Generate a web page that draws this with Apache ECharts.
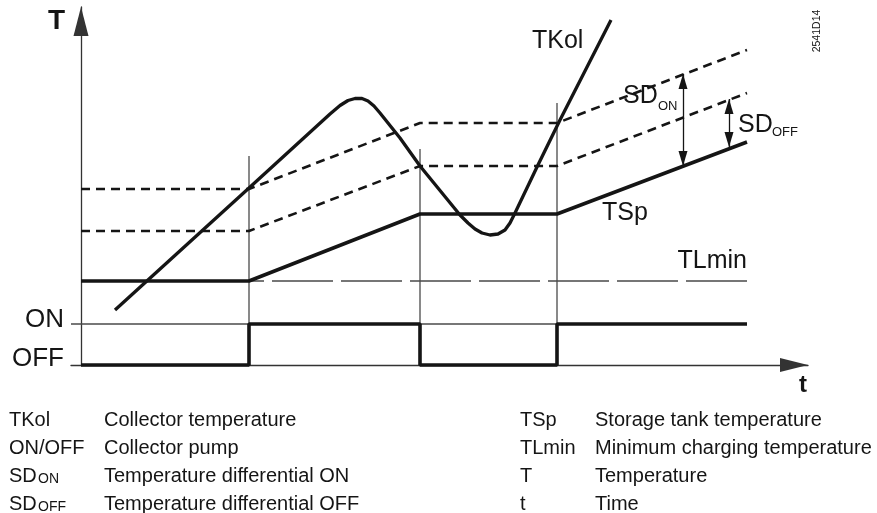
<!DOCTYPE html>
<html><head><meta charset="utf-8">
<script src="https://cdn.jsdelivr.net/npm/echarts@6/dist/echarts.min.js"></script>
<style>html,body{margin:0;padding:0;background:#fff}#c{width:877px;height:513px}</style>
</head><body><div id="c"></div>
<script>
// ---- data (time and temperature in arbitrary units) ----
const tkolT = [3.4, 16.8, 24.9, 25.9, 26.7, 27.4, 28.1, 28.7, 29.3, 29.9, 31.9, 33.9, 37.9, 38.7, 39.4, 40.1, 40.9, 41.7, 42.4, 42.9, 43.4, 45.6, 47.9, 53.0];
const tkolV = [5.5, 17.7, 25.1, 25.95, 26.45, 26.65, 26.65, 26.4, 25.9, 25.2, 22.7, 19.9, 15.0, 14.2, 13.6, 13.2, 13.0, 13.1, 13.5, 14.2, 15.2, 19.8, 24.5, 34.5];
const tspT = [0, 16.8, 33.9, 47.6, 66.6];
const tspV = [8.4, 8.4, 15.1, 15.1, 22.3];
const sdOffLineV = [13.4, 13.4, 19.9, 19.9, 27.2];
const sdOnLineV = [17.6, 17.6, 24.2, 24.2, 31.5];
const tlminT = [16.8, 66.6];
const tlminV = 8.4;
const pumpT = [0, 16.8, 16.8, 33.9, 33.9, 47.6, 47.6, 66.6];
const pumpState = [0, 0, 1, 1, 0, 0, 1, 1];
const onLevel = 4.1;
const offLevel = 0;
const onRefT = [-1, 66.6];
const switchT = [16.8, 33.9, 47.6];
const switchGuideTop = [20.9, 21.6, 26.2];
const sdOnArrow = { t: 60.2, from: 19.9, to: 29.1 };
const sdOffArrow = { t: 64.8, from: 21.8, to: 26.6 };
const legendLeftCodes = ['TKol', 'ON/OFF', 'SD|ON', 'SD|OFF'];
const legendLeftTexts = ['Collector temperature', 'Collector pump', 'Temperature differential ON', 'Temperature differential OFF'];
const legendRightCodes = ['TSp', 'TLmin', 'T', 't'];
const legendRightTexts = ['Storage tank temperature', 'Minimum charging temperature', 'Temperature', 'Time'];

// ---- build ----
const FF = '"Liberation Sans", Arial, Helvetica, sans-serif';
const INK = '#151515';
const THIN = '#4a4a4a';
const zip = (xs, ys) => xs.map((x, i) => [x, Array.isArray(ys) ? ys[i] : ys]);

function line(data, lineStyle, z, extra) {
  return Object.assign({
    type: 'line', data, symbol: 'none', showSymbol: false, silent: true,
    animation: false, clip: false, z, lineStyle
  }, extra || {});
}

const series = [];
switchT.forEach((t, i) => {
  series.push(line([[t, offLevel], [t, switchGuideTop[i]]], { color: THIN, width: 1.3 }, 1));
});
series.push(line(zip(onRefT, onLevel), { color: THIN, width: 1.3 }, 1));
series.push(line(zip(tlminT, tlminV), { color: THIN, width: 1.3, type: [61, 8], dashOffset: 46 }, 1));
series.push(line(zip(tspT, sdOffLineV), { color: INK, width: 2.6, type: [9, 6] }, 2));
series.push(line(zip(tspT, sdOnLineV), { color: INK, width: 2.6, type: [9, 6] }, 2));
series.push(line(zip(tspT, tspV), { color: INK, width: 3.6 }, 3, {
  markLine: {
    silent: true, animation: false,
    symbol: ['triangle', 'triangle'], symbolSize: [9, 15], symbolOffset: [[0, 7.5], [0, 7.5]],
    lineStyle: { color: INK, width: 1.3, type: 'solid' },
    label: { show: false },
    data: [
      [{ coord: [sdOnArrow.t, sdOnArrow.from] }, { coord: [sdOnArrow.t, sdOnArrow.to] }],
      [{ coord: [sdOffArrow.t, sdOffArrow.from] }, { coord: [sdOffArrow.t, sdOffArrow.to] }]
    ]
  }
}));
series.push(line(zip(pumpT, pumpState.map(s => s ? onLevel : offLevel)), { color: INK, width: 3.6 }, 3));
series.push(line(zip(tkolT, tkolV), { color: INK, width: 3.3, join: 'round', cap: 'butt' }, 4, { smooth: false }));

function txt(text, x, y, size, opts) {
  opts = opts || {};
  return {
    type: 'text', x, y, rotation: opts.rotation || 0, silent: true, z: 10,
    style: {
      text, fontSize: size, fontFamily: FF, fontWeight: opts.bold ? 'bold' : 'normal',
      fill: INK, align: opts.align || 'left', textAlign: opts.align || 'left',
      verticalAlign: 'middle', textVerticalAlign: 'middle'
    }
  };
}

const graphics = [
  txt('T', 48, 21, 28, { bold: true }),
  txt('t', 803, 385, 24, { bold: true, align: 'center' }),
  txt('ON', 64, 320, 26, { align: 'right' }),
  txt('OFF', 64, 359, 26, { align: 'right' }),
  txt('TKol', 532, 41, 25),
  txt('TSp', 602, 213, 25),
  txt('TLmin', 747, 261, 25, { align: 'right' }),
  txt('SD', 623, 96, 25),
  txt('ON', 658, 106, 13),
  txt('SD', 738, 125, 25),
  txt('OFF', 772, 132, 13),
  txt('2541D14', 817, 31, 10.5, { align: 'center', rotation: Math.PI / 2 })
];

const rowY = [420, 448, 476, 504];
function legendCode(code, x, y) {
  const parts = code.split('|');
  if (parts.length === 1) return [txt(code, x, y, 20)];
  return [txt(parts[0], x, y, 20), txt(parts[1], x + 29, y + 3, 14)];
}
legendLeftCodes.forEach((c, i) => {
  graphics.push(...legendCode(c, 9, rowY[i]));
  graphics.push(txt(legendLeftTexts[i], 104, rowY[i], 20));
});
legendRightCodes.forEach((c, i) => {
  graphics.push(...legendCode(c, 520, rowY[i]));
  graphics.push(txt(legendRightTexts[i], 595, rowY[i], 20));
});

const chart = echarts.init(document.getElementById('c'), null, { renderer: 'canvas' });
chart.setOption({
  animation: false,
  backgroundColor: '#fff',
  grid: { left: 71, right: 69, top: 7, bottom: 148 },
  xAxis: {
    type: 'value', min: -1, max: 72.7,
    axisLine: { show: true, onZero: false, lineStyle: { color: '#333', width: 1.3 },
      symbol: ['none', 'triangle'], symbolSize: [14, 28], symbolOffset: [0, -14] },
    axisTick: { show: false }, axisLabel: { show: false }, splitLine: { show: false }
  },
  yAxis: {
    type: 'value', min: 0, max: 35.8,
    axisLine: { show: true, onZero: true, lineStyle: { color: '#333', width: 1.3 },
      symbol: ['none', 'triangle'], symbolSize: [15, 29], symbolOffset: [0, -14.5] },
    axisTick: { show: false }, axisLabel: { show: false }, splitLine: { show: false }
  },
  series,
  graphic: graphics
});
</script>
</body></html>
